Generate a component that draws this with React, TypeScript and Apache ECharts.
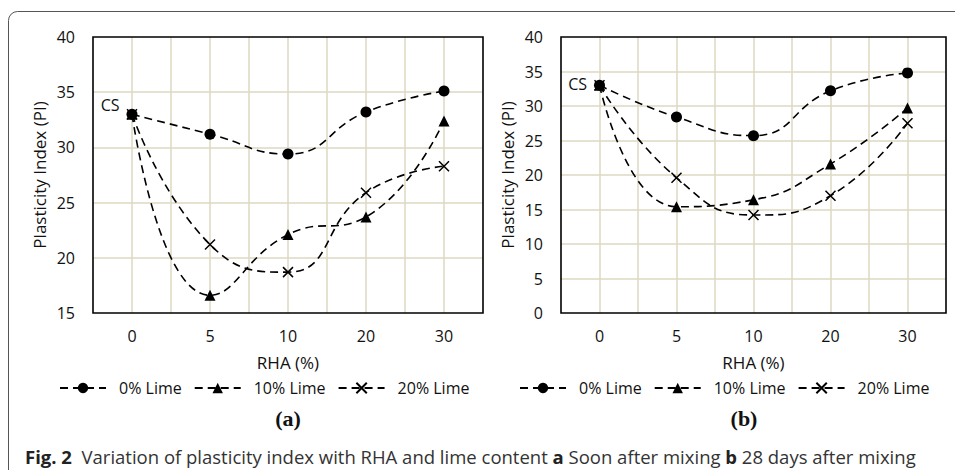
import React, { useEffect, useRef } from "react";
import * as echarts from "echarts";

const categories = ["0", "5", "10", "20", "30"];
const seriesNames = ["0% Lime", "10% Lime", "20% Lime"];

// (a) Soon after mixing
const soonLime0 = [33, 31.2, 29.4, 33.2, 35.1];
const soonLime10 = [33, 16.6, 22.1, 23.7, 32.4];
const soonLime20 = [33, 21.2, 18.7, 25.9, 28.3];

// (b) 28 days after mixing
const dayLime0 = [33, 28.4, 25.7, 32.2, 34.8];
const dayLime10 = [33, 15.4, 16.4, 21.6, 29.7];
const dayLime20 = [33, 19.6, 14.2, 17.0, 27.5];

const yRangeA = { min: 15, max: 40, interval: 5 };
const yRangeB = { min: 0, max: 40, interval: 5 };

const FONT = "'Open Sans', sans-serif";
const GRID_COLOR = "#ddd9c3";
const CROSS = "path://M0,0L10,10M10,0L0,10";

export default function App() {
  const ref = useRef<HTMLDivElement>(null);

  useEffect(() => {
    if (!ref.current) return;
    document.body.style.margin = "0";
    document.body.style.overflow = "hidden";
    const chart = echarts.init(ref.current, null, { renderer: "svg" });

    const grids = [
      { left: 93, top: 37, width: 390, height: 276 },
      { left: 561, top: 37, width: 385, height: 276 },
    ];

    const mkX = (gi: number) => [
      {
        type: "category",
        gridIndex: gi,
        data: categories,
        boundaryGap: true,
        axisLine: { show: false },
        axisTick: { show: false },
        axisLabel: { color: "#111", fontFamily: FONT, fontSize: 16, margin: 15 },
        splitLine: { show: false },
        name: "RHA (%)",
        nameLocation: "middle",
        nameGap: 41,
        nameTextStyle: { color: "#111", fontFamily: FONT, fontSize: 17 },
      },
      {
        type: "value",
        gridIndex: gi,
        min: 0,
        max: 10,
        interval: 1,
        show: true,
        position: "top",
        axisLine: { show: false },
        axisTick: { show: false },
        axisLabel: { show: false },
        splitLine: {
          show: true,
          showMinLine: false,
          showMaxLine: false,
          lineStyle: { color: GRID_COLOR, width: 1.5 },
        },
      },
    ];

    const mkY = (gi: number, r: { min: number; max: number; interval: number }) => ({
      type: "value",
      gridIndex: gi,
      min: r.min,
      max: r.max,
      interval: r.interval,
      axisLine: { show: false },
      axisTick: { show: false },
      axisLabel: { color: "#111", fontFamily: FONT, fontSize: 16, margin: 18 },
      splitLine: {
        show: true,
        showMinLine: false,
        showMaxLine: false,
        lineStyle: { color: GRID_COLOR, width: 1.5 },
      },
      name: "Plasticity Index (PI)",
      nameLocation: "middle",
      nameGap: 45,
      nameRotate: 90,
      nameTextStyle: { color: "#111", fontFamily: FONT, fontSize: 17 },
    });

    const lineStyle = { color: "#000", width: 1.6, type: [8, 5] };

    const mkSeries = (
      gi: number,
      d0: number[],
      d10: number[],
      d20: number[],
      csOffset: number[]
    ) => {
      const base = {
        type: "line",
        xAxisIndex: gi * 2,
        yAxisIndex: gi,
        smooth: 0.5,
        lineStyle,
        symbolSize: 10,
        z: 5,
      };
      const withCS = d0.map((v, i) =>
        i === 0
          ? {
              value: v,
              label: {
                show: true,
                position: "left",
                distance: 7,
                offset: csOffset,
                formatter: "CS",
                color: "#111",
                fontFamily: FONT,
                fontSize: 16,
              },
            }
          : v
      );
      return [
        {
          ...base,
          name: seriesNames[0],
          data: withCS,
          symbol: "circle",
          symbolSize: 11,
          itemStyle: { color: "#000" },
        },
        {
          ...base,
          name: seriesNames[1],
          data: d10,
          symbol: "triangle",
          symbolSize: 11,
          itemStyle: { color: "#000" },
        },
        {
          ...base,
          name: seriesNames[2],
          data: d20,
          symbol: CROSS,
          symbolSize: 10,
          itemStyle: { color: "none", borderColor: "#000", borderWidth: 1.5 },
        },
      ];
    };

    const legendBase = {
      orient: "horizontal",
      top: 375,
      itemWidth: 46,
      itemHeight: 13,
      itemGap: 12,
      data: seriesNames,
      selectedMode: false,
      textStyle: { color: "#111", fontFamily: FONT, fontSize: 16, padding: [0, 0, 0, 8] },
    };

    chart.setOption({
      animation: false,
      backgroundColor: "#fff",
      grid: grids.map((g) => ({
        ...g,
        show: true,
        borderColor: "#000",
        borderWidth: 1.6,
        backgroundColor: "transparent",
        z: 3,
      })),
      xAxis: [...mkX(0), ...mkX(1)],
      yAxis: [mkY(0, yRangeA), mkY(1, yRangeB)],
      legend: [
        { ...legendBase, left: 54 },
        { ...legendBase, left: 514 },
      ],
      series: [
        ...mkSeries(0, soonLime0, soonLime10, soonLime20, [0, -9]),
        ...mkSeries(1, dayLime0, dayLime10, dayLime20, [0, -1]),
      ],
      graphic: [
        {
          type: "rect",
          shape: { x: 8.5, y: 11.5, width: 1000, height: 470, r: 9 },
          style: { fill: "none", stroke: "#555", lineWidth: 1 },
          silent: true,
        },
        {
          type: "text",
          x: 288,
          y: 418,
          style: {
            text: "(a)",
            font: "bold 22px 'Liberation Serif', 'Times New Roman', serif",
            fill: "#111",
            align: "center",
            verticalAlign: "middle",
          },
        },
        {
          type: "text",
          x: 744,
          y: 418,
          style: {
            text: "(b)",
            font: "bold 22px 'Liberation Serif', 'Times New Roman', serif",
            fill: "#111",
            align: "center",
            verticalAlign: "middle",
          },
        },
        {
          type: "text",
          x: 25,
          y: 456,
          style: {
            text:
              "{b|Fig. 2}  {n|Variation of plasticity index with RHA and lime content }{b|a}{n| Soon after mixing }{b|b}{n| 28 days after mixing}",
            verticalAlign: "middle",
            rich: {
              b: { fontFamily: FONT, fontSize: 18.5, fontWeight: "bold", fill: "#222" },
              n: { fontFamily: FONT, fontSize: 18.5, fill: "#333" },
            },
            fill: "#333",
            fontFamily: FONT,
            fontSize: 18.5,
          },
        },
      ],
    });

    return () => chart.dispose();
  }, []);

  return <div ref={ref} style={{ width: 955, height: 470 }} />;
}
